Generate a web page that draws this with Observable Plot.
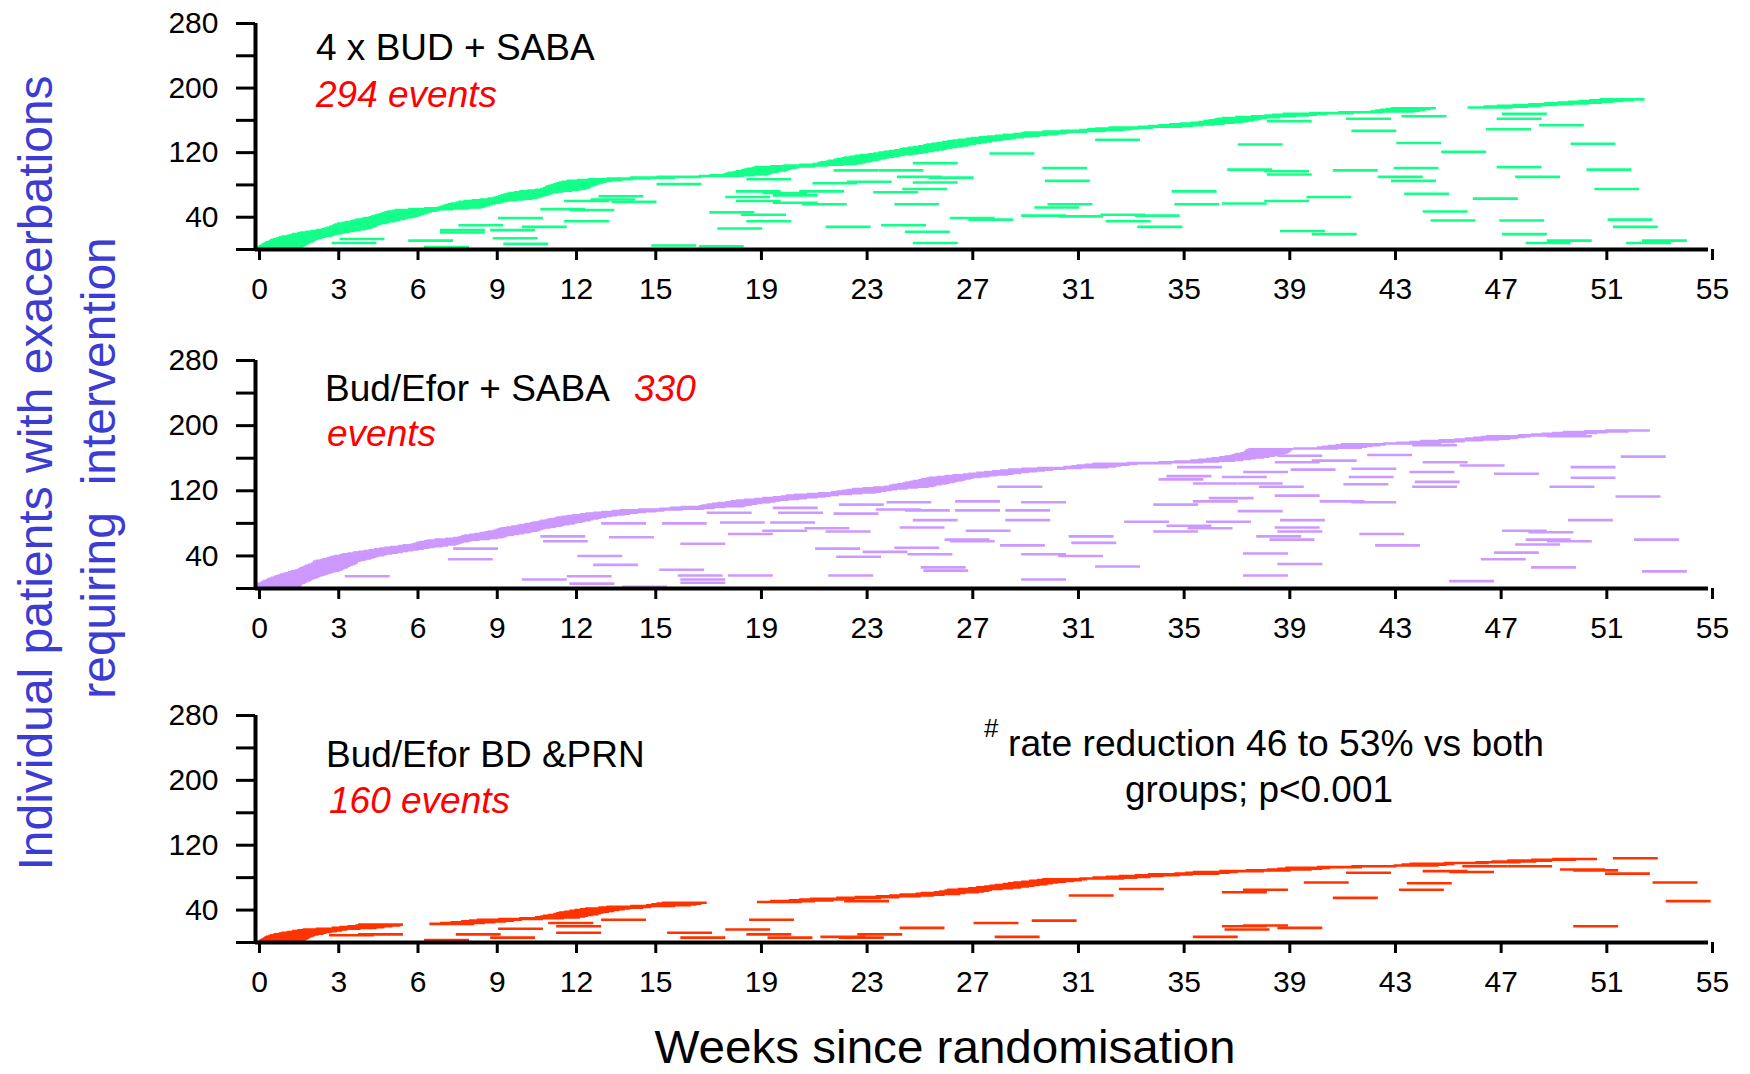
<!DOCTYPE html>
<html><head><meta charset="utf-8">
<script src="https://cdn.jsdelivr.net/npm/d3@7"></script>
<script src="https://cdn.jsdelivr.net/npm/@observablehq/plot@0.6"></script>
<style>
html,body{margin:0;padding:0;background:#fff;}
#chart{position:relative;width:1750px;height:1074px;background:#fff;overflow:hidden;font-family:"Liberation Sans",Arial,Helvetica,sans-serif;}
.panel{position:absolute;left:0;}
</style></head><body><div id="chart"></div>
<script>
// ---------- axis ticks ----------
const weekTicks = [0,3,6,9,12,15,19,23,27,31,35,39,43,47,51,55];
const patientTicks = [0,40,80,120,160,200,240,280];
const patientLabels = [40,120,200,280];
// typical length of one exacerbation bar (weeks)
const eventWeeks = 1.7;

// ---------- 4 x BUD + SABA ----------
// first event (week) for patients in rank order 1..n
const budFirst = [0.0,0.05,0.1,0.15,0.2,0.25,0.3,0.35,0.4,0.5,0.55,0.6,0.7,
0.8,0.9,1.0,1.2,1.3,1.4,1.6,1.7,1.9,2.1,2.3,2.5,2.6,2.7,2.8,2.9,2.95,3.0,
3.1,3.3,3.4,3.6,3.7,3.8,4.0,4.1,4.3,4.4,4.5,4.6,4.7,4.8,4.9,5.0,5.2,5.3,
5.8,6.4,6.9,7.0,7.1,7.2,7.3,7.4,7.6,7.7,7.9,8.2,8.5,8.8,9.0,
9.1,9.2,9.3,9.4,9.5,9.6,9.8,10.0,10.3,10.6,10.8,10.9,11.0,11.0,11.1,11.2,
11.3,11.4,11.5,11.6,11.8,12.2,12.6,13.3,14.2,15.2,16.8,17.2,17.7,
17.8,17.9,18.1,18.2,18.4,18.5,18.6,18.8,18.9,19.5,20.0,20.6,21.1,
21.3,21.4,21.6,21.7,21.9,22.0,22.2,22.3,22.5,22.7,22.9,23.2,23.4,
23.6,23.8,24.0,24.2,24.4,24.5,24.7,24.9,25.1,25.3,25.4,25.6,25.8,26.0,26.2,
26.4,26.6,26.9,27.1,27.4,27.7,28.0,28.3,28.7,29.0,29.1,29.8,30.5,31.2,
31.5,31.8,32.3,33.4,33.8,34.2,34.6,35.0,35.4,35.7,35.9,36.1,36.3,36.4,36.6,
37.1,37.7,38.2,38.5,38.9,39.9,41.0,42.2,42.4,42.6,42.8,43.0,45.9,46.5,
47.0,47.6,48.2,48.8,49.3,49.7,50.1,50.5,50.9];
// later events: [week, patient rank]
const budRepeat = [[2.9,8],[3.2,13],[5.8,11],[6.4,3],[7.0,24],[7.0,21],[7.7,30],[8.9,24],[9.0,14],[9.4,7],[9.2,39],[10.1,28],[11.7,35],[15.0,5],[16.8,4],[10.8,50],[11.9,49],[11.7,60],[13.5,59],[12.7,62],[13.0,66],[15.2,81],
[17.2,46],[18.4,43],[17.5,26],[18.6,35],[17.8,65],[18.2,72],[18.2,60],[19.2,70],[19.6,58],[20.6,72],[19.6,67],[20.7,56],[18.6,87],[21.1,82],[22.4,84],[21.6,28],[21.9,98],[23.6,98],[23.4,71],[23.7,30],[24.2,56],[24.3,90],[25.5,89],[24.5,75],[24.6,22],[24.9,8],[24.9,83],[24.9,107],[26.3,39],[27.0,37],[27.8,119],[29.0,42],[30.4,41],[29.5,52],[30.0,56],[29.8,101],[29.9,85],[31.8,136],[32.0,43],[32.2,35],[33.3,42],[33.4,28],[34.7,72],[34.8,56],
[36.6,57],[38.2,60],[39.8,65],[36.8,99],[38.2,97],[38.3,93],[37.2,130],[38.3,159],[38.8,23],[40.0,19],[40.8,98],[41.5,147],[41.3,162],[42.5,90],[43.0,85],[43.1,101],[43.2,132],[43.5,69],[43.4,165],[44.2,47],[44.5,36],[44.9,121],[46.1,63],[46.6,149],[47.0,102],[47.0,162],[47.2,168],[47.1,36],[47.2,19],[47.7,90],[48.1,8],[48.9,11],[48.6,154],[49.8,131],[50.4,99],[50.7,75],[51.2,37],[51.4,28],[51.9,8],[52.5,11]];

// ---------- Bud/Efor + SABA ----------
const befFirst = [0.0,0.02,0.04,0.06,0.08,0.1,0.2,0.25,0.3,0.4,0.45,0.5,0.6,0.7,0.76,
0.85,0.95,1.05,1.15,1.25,1.35,1.5,1.6,1.65,1.7,1.8,1.85,1.9,2.0,2.1,2.15,2.2,2.2,
2.3,2.45,2.55,2.7,2.8,2.9,3.0,3.2,3.3,3.5,3.7,3.9,4.1,4.3,4.5,4.7,4.9,5.1,5.4,5.6,5.9,
6.0,6.1,6.2,6.4,6.5,6.8,7.2,7.5,7.7,7.8,7.9,8.1,8.3,8.5,8.7,8.8,9.0,9.1,9.2,9.3,
9.5,9.7,9.9,10.0,10.2,10.4,10.5,10.7,10.8,11.0,11.1,11.3,11.4,11.6,11.8,12.0,12.3,12.5,
12.8,13.1,13.5,13.8,14.5,15.3,15.7,16.1,16.8,16.9,17.1,17.3,17.5,17.8,18.0,18.2,18.5,
18.9,19.2,19.6,19.9,20.1,20.4,20.9,21.3,21.8,22.0,22.2,22.4,22.6,23.0,23.4,23.8,
24.0,24.1,24.3,24.5,24.6,24.8,24.9,25.1,25.2,25.4,25.5,25.8,26.1,26.4,26.8,
27.0,27.3,27.6,27.9,28.2,28.5,29.0,29.6,30.6,30.9,31.1,31.4,31.7,33.0,34.2,34.8,35.4,
35.7,36.0,36.2,36.5,36.7,36.9,37.0,37.1,37.3,37.4,37.45,37.5,37.5,37.6,39.3,40.2,
40.4,40.6,40.9,41.1,42.7,43.2,43.7,44.1,44.8,45.4,45.8,46.1,46.4,46.6,47.8,
48.3,48.7,49.1,49.5,50.3,51.1];
const befRepeat = [[3.4,15],[7.3,36],[7.5,49],[10.1,11],[11.8,15],[11.9,6],[12.2,40],[12.8,29],[10.8,64],[10.9,58],[13.4,63],[13.1,80],[13.9,2],[15.3,23],[16.0,16],[16.1,11],[16.1,7],[15.4,80],[16.1,55],
[17.9,16],[17.6,81],[19.5,81],[17.9,67],[19.2,71],[20.8,74],[21.6,70],[19.6,99],[19.8,93],[17.1,93],[22.1,103],[21.9,92],[23.5,97],[24.6,96],[23.9,106],[21.2,49],[22.0,39],[23.0,45],[24.2,50],[24.7,42],[24.4,75],[24.9,84],[21.7,16],[25.2,26],[25.3,22],[26.1,60],[26.3,58],[26.9,71],[26.5,107],[26.5,96],[28.1,125],[28.4,84],[28.4,96],[29.0,106],[28.2,53],[29.0,42],[30.4,40],[29.0,11],[30.8,64],[30.9,56],[31.8,27],[32.9,82],[34.0,103],[34.0,70],[34.5,77],[34.2,134],[34.5,138],[34.9,149],[35.5,129],[35.5,107],
[37.2,129],[36.6,137],[37.4,143],[38.0,125],[39.2,146],[38.6,155],[40.0,157],[38.7,163],[42.1,164],[41.5,147],[41.4,137],[41.2,128],[43.7,143],[43.9,131],[43.8,125],[44.2,155],[45.6,151],[43.8,176],[46.9,141],[49.8,149],[49.8,136],[49.0,125],[51.7,162],[51.5,113],[48.9,187],[36.1,111],[37.2,95],[38.6,114],[40.3,107],[41.5,106],[36.0,82],[35.3,74],[38.8,84],[38.6,75],[38.7,70],[37.9,64],[38.4,60],[41.8,67],[42.4,53],[37.4,43],[38.7,30],[37.4,16],[45.2,9],[46.4,36],[46.9,44],[47.2,71],[48.2,69],[48.1,60],[47.7,54],[48.9,58],[48.3,26],[49.7,84],[52.2,60],[52.5,21]];

// ---------- Bud/Efor BD & PRN ----------
const bdFirst = [0.1,0.15,0.2,0.25,0.3,0.35,0.4,0.5,0.57,0.7,0.9,1.0,1.2,1.4,1.6,1.8,2.3,2.9,3.2,3.5,3.8,3.9,
6.6,7.0,7.4,7.8,8.1,8.4,9.2,10.0,10.6,10.8,10.9,11.1,11.3,11.4,11.5,11.7,11.9,12.1,12.3,12.5,
13.0,13.3,14.2,14.8,15.0,15.2,15.4,19.0,19.5,20.2,20.6,21.0,22.0,22.7,23.5,24.0,24.4,
25.0,25.2,25.7,25.9,26.1,26.2,26.6,27.0,27.3,27.6,27.8,28.0,28.3,28.5,28.7,29.0,29.3,29.6,29.8,
31.2,31.7,32.2,32.7,33.3,33.8,34.8,35.2,35.5,36.5,37.5,38.3,38.7,39.0,40.2,41.5,
43.1,43.4,43.7,45.0,46.2,46.8,47.4,48.3,49.1,51.4];
const bdRepeat = [[2.8,9],[3.9,10],[6.4,3],[7.6,10],[8.9,6],[9.2,17],[11.1,24],[11.4,20],[11.4,12],[13.1,28],[15.6,12],[16.1,6],[17.8,16],[18.6,10],[18.7,28],[19.4,6],[21.4,7],[22.1,6],[22.8,10],[22.3,51],[24.4,18],[27.2,24],[28.0,7],[29.4,27],[30.8,58],[32.7,66],[35.5,7],[36.6,62],[37.4,65],[36.6,20],[36.7,16],[37.4,21],[38.7,18],[39.7,74],[40.8,55],[41.3,86],[43.3,65],[43.6,73],[44.2,88],[45.2,87],[45.7,94],[47.4,94],[49.4,90],[49.9,89],[51.1,85],[52.9,74],[53.4,51],[49.9,20]];

const budColor = "#14ff8a";
const befColor = "#cc99ff";
const bdColor = "#ff3300";

function events(first, repeat) {
  return [
    ...first.map((w, i) => ({start: w, end: w + eventWeeks, patient: i + 1})),
    ...repeat.map(([w, p]) => ({start: w, end: w + eventWeeks, patient: p}))
  ];
}

function panel(data, color, plotHeight) {
  const mt = 23, mb = 56;
  return Plot.plot({
    width: 1750,
    height: mt + plotHeight + mb,
    marginLeft: 255, marginRight: 42, marginTop: mt, marginBottom: mb,
    x: {domain: [0, 55]},
    y: {domain: [0, 280]},
    style: {fontFamily: '"Liberation Sans", Arial, Helvetica, sans-serif', fontSize: "30px", color: "#000", background: "transparent", overflow: "visible"},
    marks: [
      Plot.ruleY(data, {x1: "start", x2: "end", y: "patient", stroke: color, strokeWidth: 2.6}),
      Plot.axisX({ticks: weekTicks, tickSize: 11, tickPadding: 17, strokeWidth: 3, label: null, dx: 4}),
      Plot.axisY({ticks: patientTicks, tickSize: 19, tickPadding: 18, strokeWidth: 3, label: null,
        tickFormat: d => patientLabels.includes(d) ? String(d) : ""}),
      Plot.ruleX([0], {stroke: "#000", strokeWidth: 4}),
      Plot.ruleY([0], {stroke: "#000", strokeWidth: 4})
    ]
  });
}

const chart = document.getElementById("chart");
const specs = [
  {data: events(budFirst, budRepeat), color: budColor, h: 226, top: 0},
  {data: events(befFirst, befRepeat), color: befColor, h: 228, top: 337},
  {data: events(bdFirst, bdRepeat), color: bdColor, h: 227, top: 692}
];
for (const s of specs) {
  const div = document.createElement("div");
  div.className = "panel";
  div.style.top = s.top + "px";
  div.appendChild(panel(s.data, s.color, s.h));
  chart.appendChild(div);
}

const ff = '"Liberation Sans", Arial, Helvetica, sans-serif';
const overlay = document.createElement("div");
overlay.style.cssText = "position:absolute;left:0;top:0;width:1750px;height:1074px;pointer-events:none;";
overlay.innerHTML = `
<svg width="1750" height="1074" xmlns="http://www.w3.org/2000/svg" font-family='${ff}'>
  <g fill="#3c3cd2" font-size="48" text-anchor="middle">
    <text transform="translate(35,473) rotate(-90)" dy="0.36em">Individual patients with exacerbations</text>
    <text transform="translate(98,468) rotate(-90)" dy="0.36em" style="white-space:pre">requiring  intervention</text>
  </g>
  <g font-size="37" fill="#000">
    <text x="316" y="60">4 x BUD + SABA</text>
    <text x="316" y="107" font-style="italic" fill="#ff0000">294 events</text>
    <text x="325" y="401">Bud/Efor + SABA</text>
    <text x="634" y="401" font-style="italic" fill="#ff0000">330</text>
    <text x="327" y="446" font-style="italic" fill="#ff0000">events</text>
    <text x="326" y="767">Bud/Efor BD &amp;PRN</text>
    <text x="329" y="813" font-style="italic" fill="#ff0000">160 events</text>
  </g>
  <g fill="#000">
    <text x="984" y="737" font-size="26">#</text>
    <text x="1276" y="756" font-size="37" text-anchor="middle" textLength="536" lengthAdjust="spacingAndGlyphs">rate reduction 46 to 53% vs both</text>
    <text x="1259" y="802" font-size="37" text-anchor="middle" textLength="268" lengthAdjust="spacingAndGlyphs">groups; p&lt;0.001</text>
    <text x="945" y="1063" font-size="47" text-anchor="middle" textLength="581" lengthAdjust="spacingAndGlyphs">Weeks since randomisation</text>
  </g>
</svg>`;
chart.appendChild(overlay);
</script></body></html>
